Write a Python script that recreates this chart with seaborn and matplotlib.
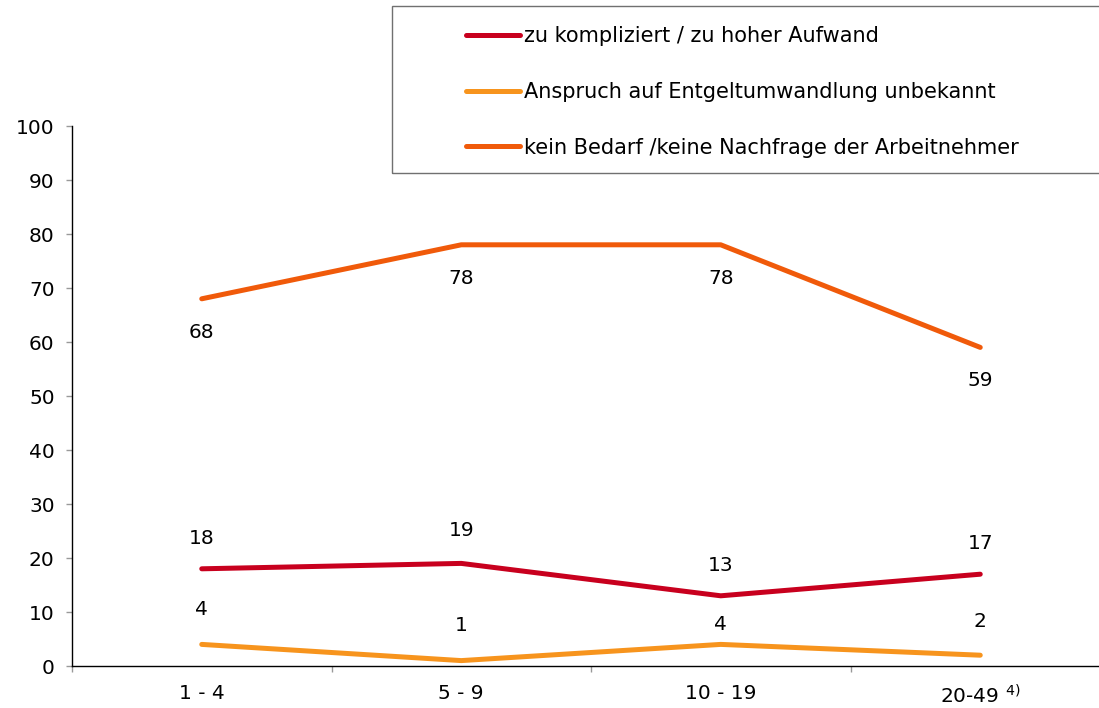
import pandas as pd
import matplotlib
matplotlib.use("Agg")
import matplotlib.pyplot as plt
import seaborn as sns
from matplotlib.patches import Rectangle

categories = ["1 - 4", "5 - 9", "10 - 19", "20-49"]
tick_labels = ["1 - 4", "5 - 9", "10 - 19", "20-49 $^{4)}$"]

series_names = [
    "zu kompliziert / zu hoher Aufwand",
    "Anspruch auf Entgeltumwandlung unbekannt",
    "kein Bedarf /keine Nachfrage der Arbeitnehmer",
]
kompliziert = [18, 19, 13, 17]
unbekannt = [4, 1, 4, 2]
kein_bedarf = [68, 78, 78, 59]

colors = ["#C8001E", "#F7941D", "#F05A0A"]
# label offset in points (positive = above the line)
label_offsets = [
    [22, 24, 22, 22],
    [25, 25, 14, 24],
    [-24, -24, -24, -24],
]

rows = []
for name, vals in zip(series_names, [kompliziert, unbekannt, kein_bedarf]):
    for cat, v in zip(categories, vals):
        rows.append({"Kategorie": cat, "Wert": v, "Serie": name})
df = pd.DataFrame(rows)

sns.set_style("white")
plt.rcParams["font.family"] = ["DejaVu Sans"]
plt.rcParams["text.color"] = "black"
plt.rcParams["xtick.color"] = "black"
plt.rcParams["ytick.color"] = "black"

fs = 14.5

fig = plt.figure(figsize=(10.99, 7.08), dpi=100)
ax = fig.add_axes([72 / 1099, 42 / 708, 1038 / 1099, 540 / 708])

sns.lineplot(data=df, x="Kategorie", y="Wert", hue="Serie",
             hue_order=series_names, palette=colors, linewidth=3.6,
             sort=False, legend=False, ax=ax)

for vals, offs in zip([kompliziert, unbekannt, kein_bedarf], label_offsets):
    for i, (v, o) in enumerate(zip(vals, offs)):
        ax.annotate(str(v), (i, v), xytext=(0, o), textcoords="offset points",
                    ha="center", va="center", fontsize=fs, color="black")

ax.set_xlim(-0.5, 3.5)
ax.set_ylim(0, 100)
ax.set_yticks(range(0, 101, 10))
ax.set_xticks(range(4))
ax.set_xticklabels(tick_labels)
ax.set_xticks([-0.5, 0.5, 1.5, 2.5, 3.5], minor=True)
ax.set_xlabel("")
ax.set_ylabel("")

ax.tick_params(axis="y", which="major", length=4.5, width=1, color="#999999",
               pad=8, labelsize=fs, labelcolor="black", left=True)
ax.tick_params(axis="x", which="major", length=0, pad=13, labelsize=fs,
               labelcolor="black")
ax.tick_params(axis="x", which="minor", length=4, width=1, color="#999999",
               bottom=True)

for side in ["top", "right"]:
    ax.spines[side].set_visible(False)
for side in ["left", "bottom"]:
    ax.spines[side].set_color("black")
    ax.spines[side].set_linewidth(1)

# legend box
fig.patches.append(Rectangle((392 / 1099, 1 - 173 / 708), 720 / 1099, 167 / 708,
                             transform=fig.transFigure, fill=False,
                             edgecolor="#707070", linewidth=1))
handles = [plt.Line2D([], [], color=c, linewidth=3.6) for c in colors]
fig.legend(handles, series_names, loc="upper left",
           bbox_to_anchor=(466 / 1099, 1 - 26 / 708), frameon=False,
           fontsize=15, handlelength=2.6, handletextpad=0.2,
           labelspacing=1.72, borderpad=0, borderaxespad=0,
           labelcolor="black")

fig.savefig("out.png", dpi=100)
